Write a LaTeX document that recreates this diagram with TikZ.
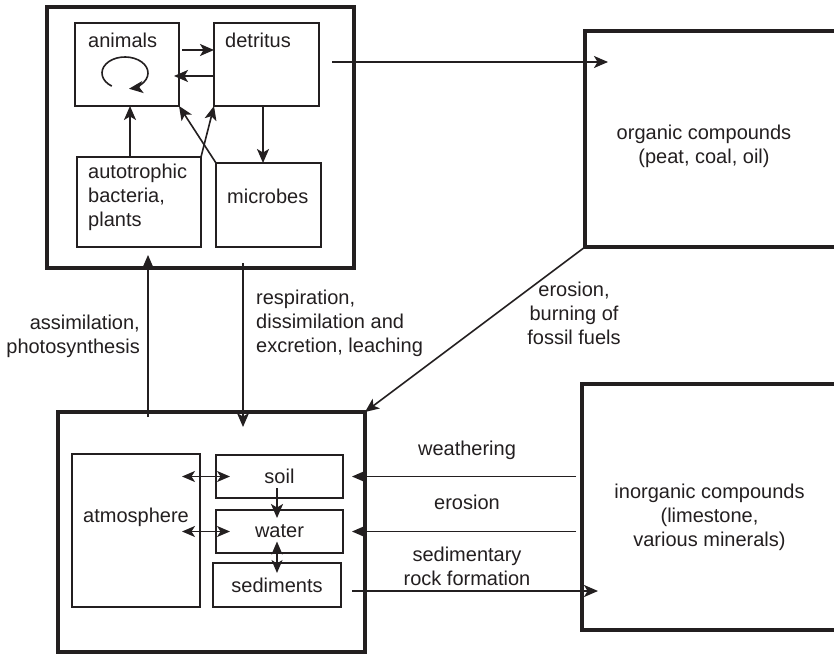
\documentclass[tikz,border=0pt]{standalone}
\usepackage{fontspec}
\setmainfont{Liberation Sans}
\usepackage{tikz}
\usetikzlibrary{arrows.meta,positioning,calc}
\definecolor{ink}{HTML}{231F20}
\tikzset{
    every picture/.style={line join=miter},
    outerbox/.style={draw=ink,line width=3.2pt,inner sep=0pt,outer sep=0pt},
    innerbox/.style={draw=ink,line width=1.7pt,inner sep=0pt,outer sep=0pt,
      text=ink,font=\fontsize{20pt}{24pt}\selectfont},
    boxtext/.style={inner sep=0pt,text=ink,font=\fontsize{20pt}{24pt}\selectfont},
    flow/.style={-{Stealth[length=14pt,width=12pt,inset=3.5pt]},draw=ink,
      line width=1.6pt},
    twoway/.style={{Stealth[length=13pt,width=11pt,inset=3.5pt]}-{Stealth[length=13pt,width=11pt,inset=3.5pt]},
      draw=ink,line width=1.6pt}
}

\begin{document}
\begin{tikzpicture}[x=1pt,y=-1pt]
  \useasboundingbox (0,0) rectangle (834,655);
  \clip (0,0) rectangle (834,655);
  \fill[white] (0,0) rectangle (834,655);

  % living compartment
  \node[outerbox,minimum width=307,minimum height=261] (biota) at (200.5,137.5) {};
  \node[innerbox,minimum width=104,minimum height=83] (animals) at (127,64.5) {};
  \node[innerbox,minimum width=105,minimum height=83] (detritus) at (266.5,64.5) {};
  \node[innerbox,minimum width=124,minimum height=90] (autotroph) at (139,202) {};
  \node[innerbox,minimum width=105,minimum height=84] (microbes) at (268.5,205) {};
  \node[boxtext,anchor=base west] (animalsLbl) at (88,48) {animals};
  \node[boxtext,anchor=base west] (detritusLbl) at (225,48) {detritus};
  \node[boxtext,anchor=north west,align=left] (autotrophLbl) at (88,164) {autotrophic\\bacteria,\\plants};
  \node[boxtext,anchor=base west] (microbesLbl) at (227,203) {microbes};

  \coordinate (loopc) at (125,73);
  \draw[flow] ($(loopc)+(-13.2,13.1)$) arc[start angle=125,end angle=440,x radius=23,y radius=16];

  \draw[flow] ($(animals.east)+(3,-14.5)$) -- ($(detritus.west)+(0,-14.5)$);
  \draw[flow] ($(detritus.west)+(0,11.5)$) -- ($(animals.east)+(-5,11.5)$);
  \draw[flow] ($(autotroph.north -| animals.south)+(3,0)$) -- ($(animals.south)+(3,0)$);
  \draw[flow] (autotroph.north east) -- (detritus.south west);
  \draw[flow] (microbes.north west) -- (animals.south east);
  \draw[flow] ($(detritus.south)+(-3.5,0)$) -- ($(detritus.south |- microbes.north)+(-3.5,0)$);

  % fossil stores
  \node[outerbox,minimum width=260,minimum height=216] (organic) at (715,139) {};
  \node[boxtext,align=center] (organicLbl) at (704,146) {organic compounds\\(peat, coal, oil)};
  \draw[flow] ($(detritus.east)+(13,-2.5)$) -- ($(organic.west |- detritus.east)+(23,-2.5)$);

  % abiotic compartment
  \node[outerbox,minimum width=307,minimum height=240] (abiotic) at (211.5,532) {};
  \node[innerbox,minimum width=128,minimum height=153] (atmosphere) at (136,530.5) {};
  \node[boxtext] (atmosphereLbl) at (136,517) {atmosphere};
  \node[innerbox,minimum width=127,minimum height=43] (soil) at (279.5,476.5) {soil};
  \node[innerbox,minimum width=127,minimum height=43] (water) at (279.5,531.5) {water};
  \node[innerbox,minimum width=128,minimum height=44] (sediments) at (277,585) {sediments};

  \draw[twoway] ($(atmosphere.east |- soil.west)+(-18,0)$) -- ($(soil.west)+(14,0)$);
  \draw[twoway] ($(atmosphere.east |- water.west)+(-18,0)$) -- ($(water.west)+(14,0)$);
  \draw[flow] ($(soil.center)+(-2.5,11.5)$) -- ($(water.north)+(-2.5,8)$);
  \draw[twoway] ($(water.center)+(-2.5,10)$) -- ($(sediments.north)+(0,10)$);

  \draw[flow] ($(abiotic.north -| biota.south)+(-52.5,5)$) -- ($(biota.south)+(-52.5,-13)$);
  \draw[flow] ($(biota.south)+(42.5,-5)$) -- ($(abiotic.north -| biota.south)+(42.5,15)$);
  \node[boxtext,align=right,anchor=east] (assimLbl) at (140,336) {assimilation,\\photosynthesis};
  \node[boxtext,align=left,anchor=west] (respLbl) at (256,323) {respiration,\\dissimilation and\\excretion, leaching};

  \node[outerbox,minimum width=260,minimum height=246] (inorganic) at (712,507) {};
  \node[boxtext,align=center] (inorganicLbl) at (709.5,517) {inorganic compounds\\(limestone,\\various minerals)};

  \draw[flow] (organic.south west) -- (abiotic.north east);
  \node[boxtext,align=center] (burnLbl) at (574,313) {erosion,\\burning of\\fossil fuels};

  \draw[flow] ($(inorganic.west |- soil.east)+(-6,0)$) -- ($(abiotic.east |- soil.east)+(-13,0)$);
  \draw[flow] ($(inorganic.west |- water.east)+(-6,0)$) -- ($(abiotic.east |- water.east)+(-13,0)$);
  \draw[flow] ($(abiotic.east |- sediments.east)+(-13,6)$) -- ($(inorganic.west |- sediments.east)+(16,6)$);
  \node[boxtext] (weatherLbl) at (467,450) {weathering};
  \node[boxtext] (erosionLbl) at (467,502) {erosion};
  \node[boxtext,align=center] (rockLbl) at (467,566) {sedimentary\\rock formation};
\end{tikzpicture}
\end{document}
